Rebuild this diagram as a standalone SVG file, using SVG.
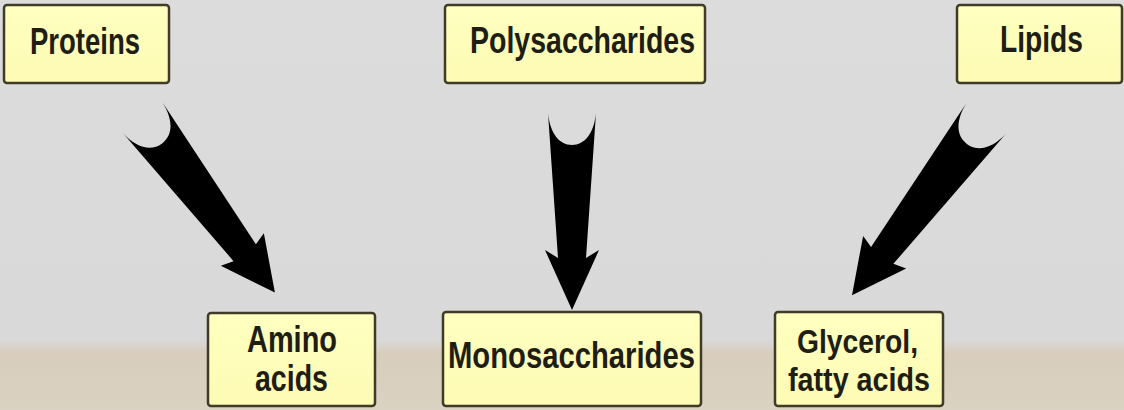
<svg xmlns="http://www.w3.org/2000/svg" width="1124" height="410" viewBox="0 0 1124 410">
<defs>
<linearGradient id="bg" x1="0" y1="0" x2="0" y2="1">
<stop offset="0" stop-color="#dcdcdc"/>
<stop offset="0.83" stop-color="#d9d9d9"/>
<stop offset="0.86" stop-color="#d8cdbd"/>
<stop offset="1" stop-color="#dad2c2"/>
</linearGradient>
<linearGradient id="box" x1="0" y1="0" x2="0" y2="1">
<stop offset="0" stop-color="#ffffc0"/>
<stop offset="1" stop-color="#fdfbb4"/>
</linearGradient>
</defs>
<style>
.box{fill:url(#box);stroke:#3f3b27;stroke-width:2.5}
.t{font-family:"Liberation Sans Narrow","Liberation Sans",Arial,sans-serif;font-size:37px;font-weight:bold;fill:#1e1e14}
.s{font-size:34px}
.arrow{fill:#000}
</style>
<rect width="1124" height="410" fill="url(#bg)"/>
<g id="connectors">
<path class="arrow" transform="translate(144,119.5) rotate(-37.1)" d="M -25,-2 C -23,18 -14,30 0,30 C 14,30 23,18 25,-2 L 14,167 L 27,163 L 0,217 L -27,163 L -14,167 Z"/>
<path class="arrow" transform="translate(572,115)" d="M -24,-2 C -22,18 -13,30 0,30 C 13,30 22,18 24,-2 L 14,143 L 27,135 L 0,195 L -27,135 L -14,143 Z"/>
<path class="arrow" transform="translate(985,120) rotate(37.2)" d="M -25,-2 C -23,18 -14,30 0,30 C 14,30 23,18 25,-2 L 14,170 L 27,166 L 0,220 L -27,166 L -14,170 Z"/>
</g>
<g id="proteins">
<rect class="box" x="4" y="5" width="165" height="78" rx="3"/>
<text class="t" x="30" y="54" textLength="110" lengthAdjust="spacingAndGlyphs">Proteins</text>
</g>
<g id="polysaccharides">
<rect class="box" x="445" y="5" width="260" height="78" rx="3"/>
<text class="t" x="470" y="53" textLength="225" lengthAdjust="spacingAndGlyphs">Polysaccharides</text>
</g>
<g id="lipids">
<rect class="box" x="957" y="5" width="165" height="78" rx="3"/>
<text class="t" x="1000" y="52" textLength="83" lengthAdjust="spacingAndGlyphs">Lipids</text>
</g>
<g id="amino-acids">
<rect class="box" x="208" y="313" width="167" height="93" rx="3"/>
<text class="t" x="247" y="352" textLength="90" lengthAdjust="spacingAndGlyphs">Amino</text>
<text class="t" x="255" y="391" textLength="73" lengthAdjust="spacingAndGlyphs">acids</text>
</g>
<g id="monosaccharides">
<rect class="box" x="443" y="312" width="258" height="94" rx="3"/>
<text class="t" x="448" y="368" textLength="247" lengthAdjust="spacingAndGlyphs">Monosaccharides</text>
</g>
<g id="glycerol">
<rect class="box" x="775" y="312" width="168" height="94" rx="3"/>
<text class="t s" x="797" y="353" textLength="121" lengthAdjust="spacingAndGlyphs">Glycerol,</text>
<text class="t s" x="788" y="391" textLength="142" lengthAdjust="spacingAndGlyphs">fatty acids</text>
</g>
</svg>
